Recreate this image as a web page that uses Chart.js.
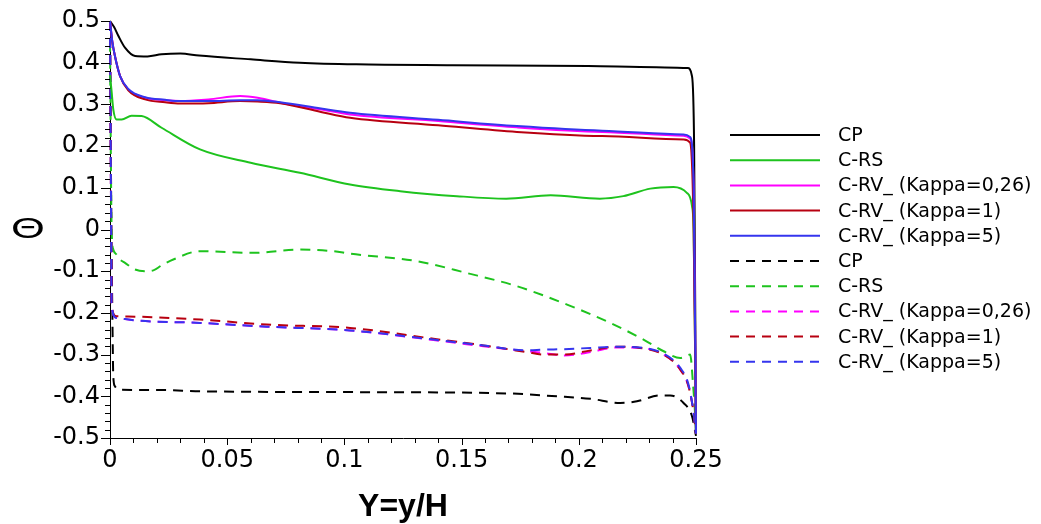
<!DOCTYPE html>
<html>
<head>
<meta charset="utf-8">
<script src="https://cdn.jsdelivr.net/npm/chart.js@4.4.1/dist/chart.umd.min.js"></script>
<style>
  html, body { margin: 0; padding: 0; background: #fff; }
  #wrap { width: 1041px; height: 524px; }
</style>
</head>
<body>
<div id="wrap"><canvas id="chart" width="1041" height="524"></canvas></div>
<script>
// values (x = Y = y/H, y = theta)
var seriesNames = ['CP', 'C-RS', 'C-RV_ (Kappa=0,26)', 'C-RV_ (Kappa=1)', 'C-RV_ (Kappa=5)'];
var seriesColors = ['#000000', '#1ec31e', '#ff00ff', '#b80010', '#3535ee'];

// solid curves
var cpSolidX = [0, 0.0018, 0.0036, 0.0064, 0.0107, 0.016, 0.022, 0.030, 0.038, 0.06, 0.081, 0.105, 0.146, 0.204, 0.233, 0.2465, 0.2482, 0.2492, 0.25];
var cpSolidY = [0.5, 0.485, 0.464, 0.436, 0.416, 0.415, 0.420, 0.422, 0.417, 0.408, 0.400, 0.396, 0.394, 0.392, 0.389, 0.387, 0.370, 0.200, -0.49];

var rsSolidX = [0, 0.0007, 0.0014, 0.0028, 0.005, 0.0092, 0.0135, 0.022, 0.0384, 0.06, 0.081, 0.1024, 0.1238, 0.148, 0.169, 0.188, 0.209, 0.219, 0.2305, 0.2404, 0.2461, 0.2483, 0.249, 0.25];
var rsSolidY = [0.37, 0.33, 0.288, 0.264, 0.264, 0.273, 0.272, 0.244, 0.192, 0.160, 0.136, 0.108, 0.092, 0.080, 0.074, 0.082, 0.074, 0.080, 0.098, 0.102, 0.088, 0.056, -0.007, -0.49];

var kSolidX = [0, 0.001, 0.0021, 0.0043, 0.0078, 0.015, 0.0235, 0.030, 0.042, 0.0555, 0.063, 0.0726, 0.09, 0.1024, 0.14, 0.1736, 0.21, 0.2447, 0.2475, 0.249, 0.25];
var k026SolidY = [0.5, 0.45, 0.416, 0.368, 0.336, 0.316, 0.310, 0.308, 0.312, 0.320, 0.316, 0.304, 0.288, 0.276, 0.260, 0.245, 0.234, 0.225, 0.218, 0.100, -0.49];
var k1SolidY = [0.5, 0.45, 0.416, 0.368, 0.334, 0.312, 0.305, 0.302, 0.303, 0.308, 0.307, 0.303, 0.282, 0.268, 0.250, 0.234, 0.224, 0.216, 0.208, 0.000, -0.49];
var k5SolidY = [0.5, 0.45, 0.416, 0.368, 0.337, 0.317, 0.311, 0.308, 0.308, 0.310, 0.310, 0.305, 0.290, 0.280, 0.263, 0.248, 0.237, 0.228, 0.222, 0.100, -0.49];

// dashed curves
var cpDashX = [0, 0.0006, 0.0010, 0.0014, 0.0021, 0.0043, 0.022, 0.0384, 0.107, 0.169, 0.1906, 0.205, 0.2177, 0.2248, 0.2347, 0.239, 0.2447, 0.2483, 0.25];
var cpDashY = [0.5, 0.0, -0.2, -0.352, -0.376, -0.384, -0.385, -0.388, -0.390, -0.393, -0.400, -0.406, -0.416, -0.412, -0.398, -0.398, -0.416, -0.448, -0.495];

var rsDashX = [0, 0.0007, 0.0014, 0.0028, 0.0043, 0.0064, 0.0107, 0.015, 0.0185, 0.022, 0.027, 0.0384, 0.061, 0.081, 0.0953, 0.1024, 0.131, 0.152, 0.1736, 0.195, 0.2134, 0.2276, 0.2362, 0.2433, 0.2475, 0.2488, 0.2495, 0.25];
var rsDashY = [0.45, 0.0, -0.048, -0.060, -0.072, -0.080, -0.096, -0.100, -0.098, -0.086, -0.072, -0.052, -0.056, -0.048, -0.052, -0.058, -0.076, -0.104, -0.136, -0.180, -0.224, -0.264, -0.292, -0.308, -0.300, -0.376, -0.432, -0.49];

var kDashX = [0, 0.0004, 0.0007, 0.0028, 0.0107, 0.0384, 0.0669, 0.1024, 0.138, 0.1593, 0.1778, 0.185, 0.1935, 0.205, 0.216, 0.226, 0.2362, 0.2433, 0.2468, 0.249, 0.25];
var k026DashY = [0.5, 0.1, -0.184, -0.212, -0.218, -0.224, -0.233, -0.242, -0.265, -0.280, -0.292, -0.296, -0.302, -0.294, -0.283, -0.284, -0.300, -0.336, -0.376, -0.44, -0.49];
var k1DashY = [0.5, 0.1, -0.184, -0.208, -0.209, -0.216, -0.228, -0.236, -0.262, -0.278, -0.294, -0.300, -0.300, -0.290, -0.281, -0.284, -0.300, -0.336, -0.376, -0.44, -0.49];
var k5DashY = [0.5, 0.1, -0.184, -0.212, -0.218, -0.224, -0.233, -0.242, -0.264, -0.278, -0.290, -0.288, -0.287, -0.284, -0.281, -0.283, -0.298, -0.332, -0.372, -0.44, -0.49];

var xTicks = [0, 0.05, 0.1, 0.15, 0.2, 0.25];
var yTicks = [-0.5, -0.4, -0.3, -0.2, -0.1, 0, 0.1, 0.2, 0.3, 0.4, 0.5];

function pts(xs, ys) {
  return xs.map(function(x, i) { return { x: x, y: ys[i] }; });
}

function line(name, color, xs, ys, dashed, order) {
  return {
    label: name,
    data: pts(xs, ys),
    borderColor: color,
    borderWidth: 2,
    borderDash: dashed ? [10, 7] : [],
    cubicInterpolationMode: 'monotone',
    pointRadius: 0,
    fill: false,
    clip: 4,
    order: order
  };
}

var datasets = [
  line(seriesNames[0], seriesColors[0], cpSolidX, cpSolidY, false, 5),
  line(seriesNames[1], seriesColors[1], rsSolidX, rsSolidY, false, 4),
  line(seriesNames[2], seriesColors[2], kSolidX, k026SolidY, false, 3),
  line(seriesNames[3], seriesColors[3], kSolidX, k1SolidY, false, 2),
  line(seriesNames[4], seriesColors[4], kSolidX, k5SolidY, false, 1),
  line(seriesNames[0], seriesColors[0], cpDashX, cpDashY, true, 10),
  line(seriesNames[1], seriesColors[1], rsDashX, rsDashY, true, 9),
  line(seriesNames[2], seriesColors[2], kDashX, k026DashY, true, 8),
  line(seriesNames[3], seriesColors[3], kDashX, k1DashY, true, 7),
  line(seriesNames[4], seriesColors[4], kDashX, k5DashY, true, 6)
];

function fmt(v) {
  return String(Math.round(v * 100) / 100);
}

// tick marks, theta label and the legend
var decor = {
  id: 'decor',
  afterDraw: function(chart) {
    var ctx = chart.ctx, a = chart.chartArea;
    var xs = chart.scales.x, ys = chart.scales.y;
    ctx.save();
    ctx.strokeStyle = '#000';
    ctx.lineWidth = 1;
    ctx.beginPath();
    for (var i = 0; i <= 25; i++) {
      var px = Math.round(xs.getPixelForValue(i / 100)) + 0.5;
      var len = i % 5 === 0 ? 7 : 5;
      ctx.moveTo(px, a.bottom);
      ctx.lineTo(px, a.bottom + len);
    }
    for (var j = -25; j <= 25; j++) {
      var py = Math.round(ys.getPixelForValue(j * 0.02)) + 0.5;
      var l2 = j % 5 === 0 ? 9 : 5;
      ctx.moveTo(a.left, py);
      ctx.lineTo(a.left - l2, py);
    }
    ctx.stroke();

    // theta
    ctx.save();
    ctx.fillStyle = '#000';
    ctx.font = '30px "Liberation Sans"';
    ctx.textAlign = 'center';
    ctx.textBaseline = 'middle';
    ctx.translate(28, 230);
    ctx.scale(1.45, 1);
    ctx.fillText('\u0398', 0, 0);
    ctx.restore();

    // legend
    ctx.font = '19px "DejaVu Sans"';
    ctx.textAlign = 'left';
    ctx.textBaseline = 'middle';
    chart.data.datasets.forEach(function(ds, k) {
      var y = 135 + k * 25.2;
      ctx.beginPath();
      ctx.strokeStyle = ds.borderColor;
      ctx.lineWidth = 2;
      ctx.setLineDash(ds.borderDash.length ? [9, 7] : []);
      ctx.moveTo(730, y);
      ctx.lineTo(820, y);
      ctx.stroke();
      ctx.setLineDash([]);
      ctx.fillStyle = '#000';
      ctx.fillText(ds.label, 838, y + 1);
    });
    ctx.restore();
  }
};

new Chart(document.getElementById('chart'), {
  type: 'line',
  data: { datasets: datasets },
  options: {
    responsive: false,
    animation: false,
    devicePixelRatio: 1,
    layout: { padding: { left: 0, right: 345, top: 21, bottom: 1 } },
    plugins: { legend: { display: false }, tooltip: { enabled: false } },
    scales: {
      x: {
        type: 'linear',
        min: 0,
        max: 0.25,
        grid: { display: false },
        border: { display: true, color: '#000', width: 1 },
        afterBuildTicks: function(s) { s.ticks = xTicks.map(function(v) { return { value: v }; }); },
        ticks: {
          color: '#000',
          padding: 0,
          maxRotation: 0,
          autoSkip: false,
          font: { family: 'DejaVu Sans', size: 24 },
          callback: function(v) { return fmt(v); }
        },
        title: {
          display: true,
          text: 'Y=y/H',
          color: '#000',
          padding: 0,
          font: { family: 'Liberation Sans', size: 32, weight: 'bold', lineHeight: 1 }
        },
        afterFit: function(s) { s.height = 85; }
      },
      y: {
        type: 'linear',
        min: -0.5,
        max: 0.5,
        grid: { display: false },
        border: { display: true, color: '#000', width: 1 },
        afterBuildTicks: function(s) { s.ticks = yTicks.map(function(v) { return { value: v }; }); },
        ticks: {
          color: '#000',
          padding: 2,
          autoSkip: false,
          font: { family: 'DejaVu Sans', size: 24 },
          callback: function(v) { return fmt(v); }
        },
        afterFit: function(s) { s.width = 110; }
      }
    }
  },
  plugins: [decor]
});
</script>
</body>
</html>
